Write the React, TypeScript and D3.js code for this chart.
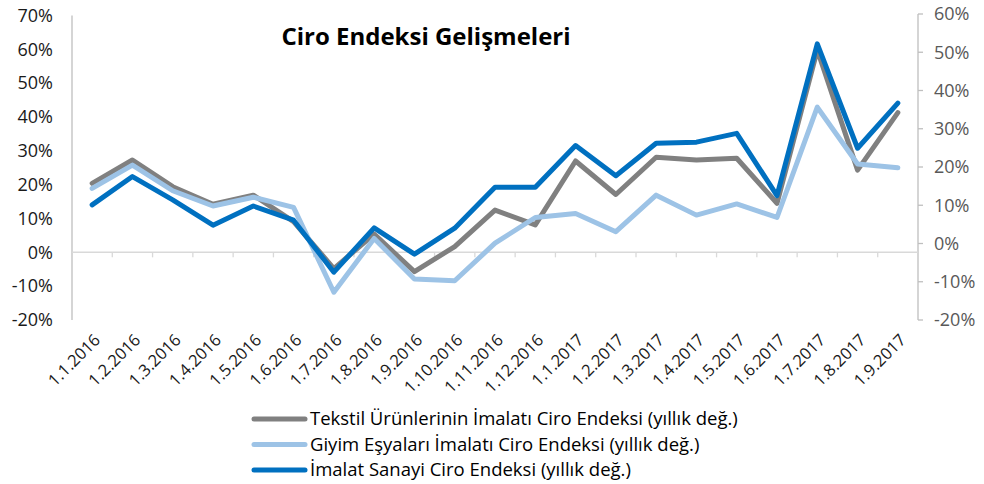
import React from "react";
import * as d3 from "d3";

const categories = [
  "1.1.2016", "1.2.2016", "1.3.2016", "1.4.2016", "1.5.2016", "1.6.2016", "1.7.2016",
  "1.8.2016", "1.9.2016", "1.10.2016", "1.11.2016", "1.12.2016", "1.1.2017", "1.2.2017",
  "1.3.2017", "1.4.2017", "1.5.2017", "1.6.2017", "1.7.2017", "1.8.2017", "1.9.2017",
];
// left axis
const tekstil = [20.4, 27.3, 19.4, 14.2, 16.9, 9.1, -4.8, 5.4, -5.7, 1.7, 12.5, 8.1, 27.0, 17.1, 28.1, 27.3, 27.8, 14.5, 59.8, 24.3, 41.3];
// left axis
const giyim = [18.9, 25.8, 18.2, 13.7, 16.3, 13.3, -11.8, 4.1, -7.9, -8.4, 2.7, 10.3, 11.5, 6.1, 16.9, 11.0, 14.3, 10.3, 42.9, 26.1, 25.0];
// right axis
const imalat = [10.1, 17.5, 11.4, 4.8, 9.8, 6.1, -7.5, 4.1, -2.8, 4.0, 14.7, 14.7, 25.6, 17.7, 26.2, 26.5, 28.8, 12.5, 52.2, 24.9, 36.7];

const leftTicks = [-20, -10, 0, 10, 20, 30, 40, 50, 60, 70];
const rightTicks = [-20, -10, 0, 10, 20, 30, 40, 50, 60];

const seriesNames = [
  "Tekstil Ürünlerinin İmalatı Ciro Endeksi (yıllık değ.)",
  "Giyim Eşyaları İmalatı Ciro Endeksi (yıllık değ.)",
  "İmalat Sanayi Ciro Endeksi (yıllık değ.)",
];
const colors = ["#808080", "#9DC3E6", "#0070C0"];
const title = "Ciro Endeksi Gelişmeleri";

export default function App() {
  const W = 984, H = 484;
  const left = 72, right = 918;
  const x = d3.scaleBand<string>().domain(categories).range([left, right]);
  const cx = (c: string) => (x(c) as number) + x.bandwidth() / 2;
  const yL = d3.scaleLinear().domain([-20, 70]).range([320, 15.5]);
  const yR = d3.scaleLinear().domain([-20, 60]).range([320, 14]);

  const lineL = d3.line<number>().x((_, i) => cx(categories[i])).y((d) => yL(d));
  const lineR = d3.line<number>().x((_, i) => cx(categories[i])).y((d) => yR(d));

  const paths = [lineL(tekstil), lineL(giyim), lineR(imalat)];
  const font = "'Open Sans', 'DejaVu Sans', sans-serif";
  const y0 = yL(0);

  return (
    <svg width={W} height={H} style={{ position: "absolute", left: 0, top: 0, background: "#fff" }} fontFamily={font}>
      {/* axes */}
      <line x1={left} x2={left} y1={yL(70)} y2={yL(-20)} stroke="#BFBFBF" strokeWidth={1.3} />
      <line x1={right} x2={right} y1={yR(60)} y2={yR(-20)} stroke="#BFBFBF" strokeWidth={1.3} />
      {rightTicks.map((t) => (
        <line key={"rt" + t} x1={right} x2={right + 5} y1={yR(t)} y2={yR(t)} stroke="#BFBFBF" strokeWidth={1.3} />
      ))}
      <line x1={left} x2={right} y1={y0} y2={y0} stroke="#D9D9D9" strokeWidth={1.5} />
      {categories.map((c, i) => i > 0 ? (
        <line key={"xt" + c} x1={x(c) as number} x2={x(c) as number} y1={y0} y2={y0 + 5} stroke="#D9D9D9" strokeWidth={1.3} />
      ) : null)}

      {/* left labels */}
      {leftTicks.map((t) => (
        <text key={"lt" + t} x={53} y={yL(t)} dy="0.35em" textAnchor="end" fontSize={18} fill="#1a1a1a">{t + "%"}</text>
      ))}
      {rightTicks.map((t) => (
        <text key={"rl" + t} x={934} y={yR(t)} dy="0.35em" textAnchor="start" fontSize={18} fill="#595959">{t + "%"}</text>
      ))}

      {/* x labels */}
      {categories.map((c) => (
        <text key={"xl" + c} transform={`translate(${cx(c) + 5},${337}) rotate(-45)`} textAnchor="end" fontSize={16.5} fill="#1a1a1a" dy="0.35em">{c}</text>
      ))}

      {/* series */}
      {paths.map((p, i) => (
        <path key={"s" + i} d={p as string} fill="none" stroke={colors[i]} strokeWidth={5} strokeLinejoin="round" strokeLinecap="round" />
      ))}

      {/* title */}
      <text x={426} y={45} textAnchor="middle" fontSize={24} fontWeight="bold" fill="#000">{title}</text>

      {/* legend */}
      {seriesNames.map((n, i) => {
        const ly = 419 + i * 25.5;
        return (
          <g key={"lg" + i}>
            <line x1={254} x2={305} y1={ly} y2={ly} stroke={colors[i]} strokeWidth={5} strokeLinecap="round" />
            <text x={310} y={ly} dy="0.35em" fontSize={18.5} fill="#000">{n}</text>
          </g>
        );
      })}
    </svg>
  );
}
